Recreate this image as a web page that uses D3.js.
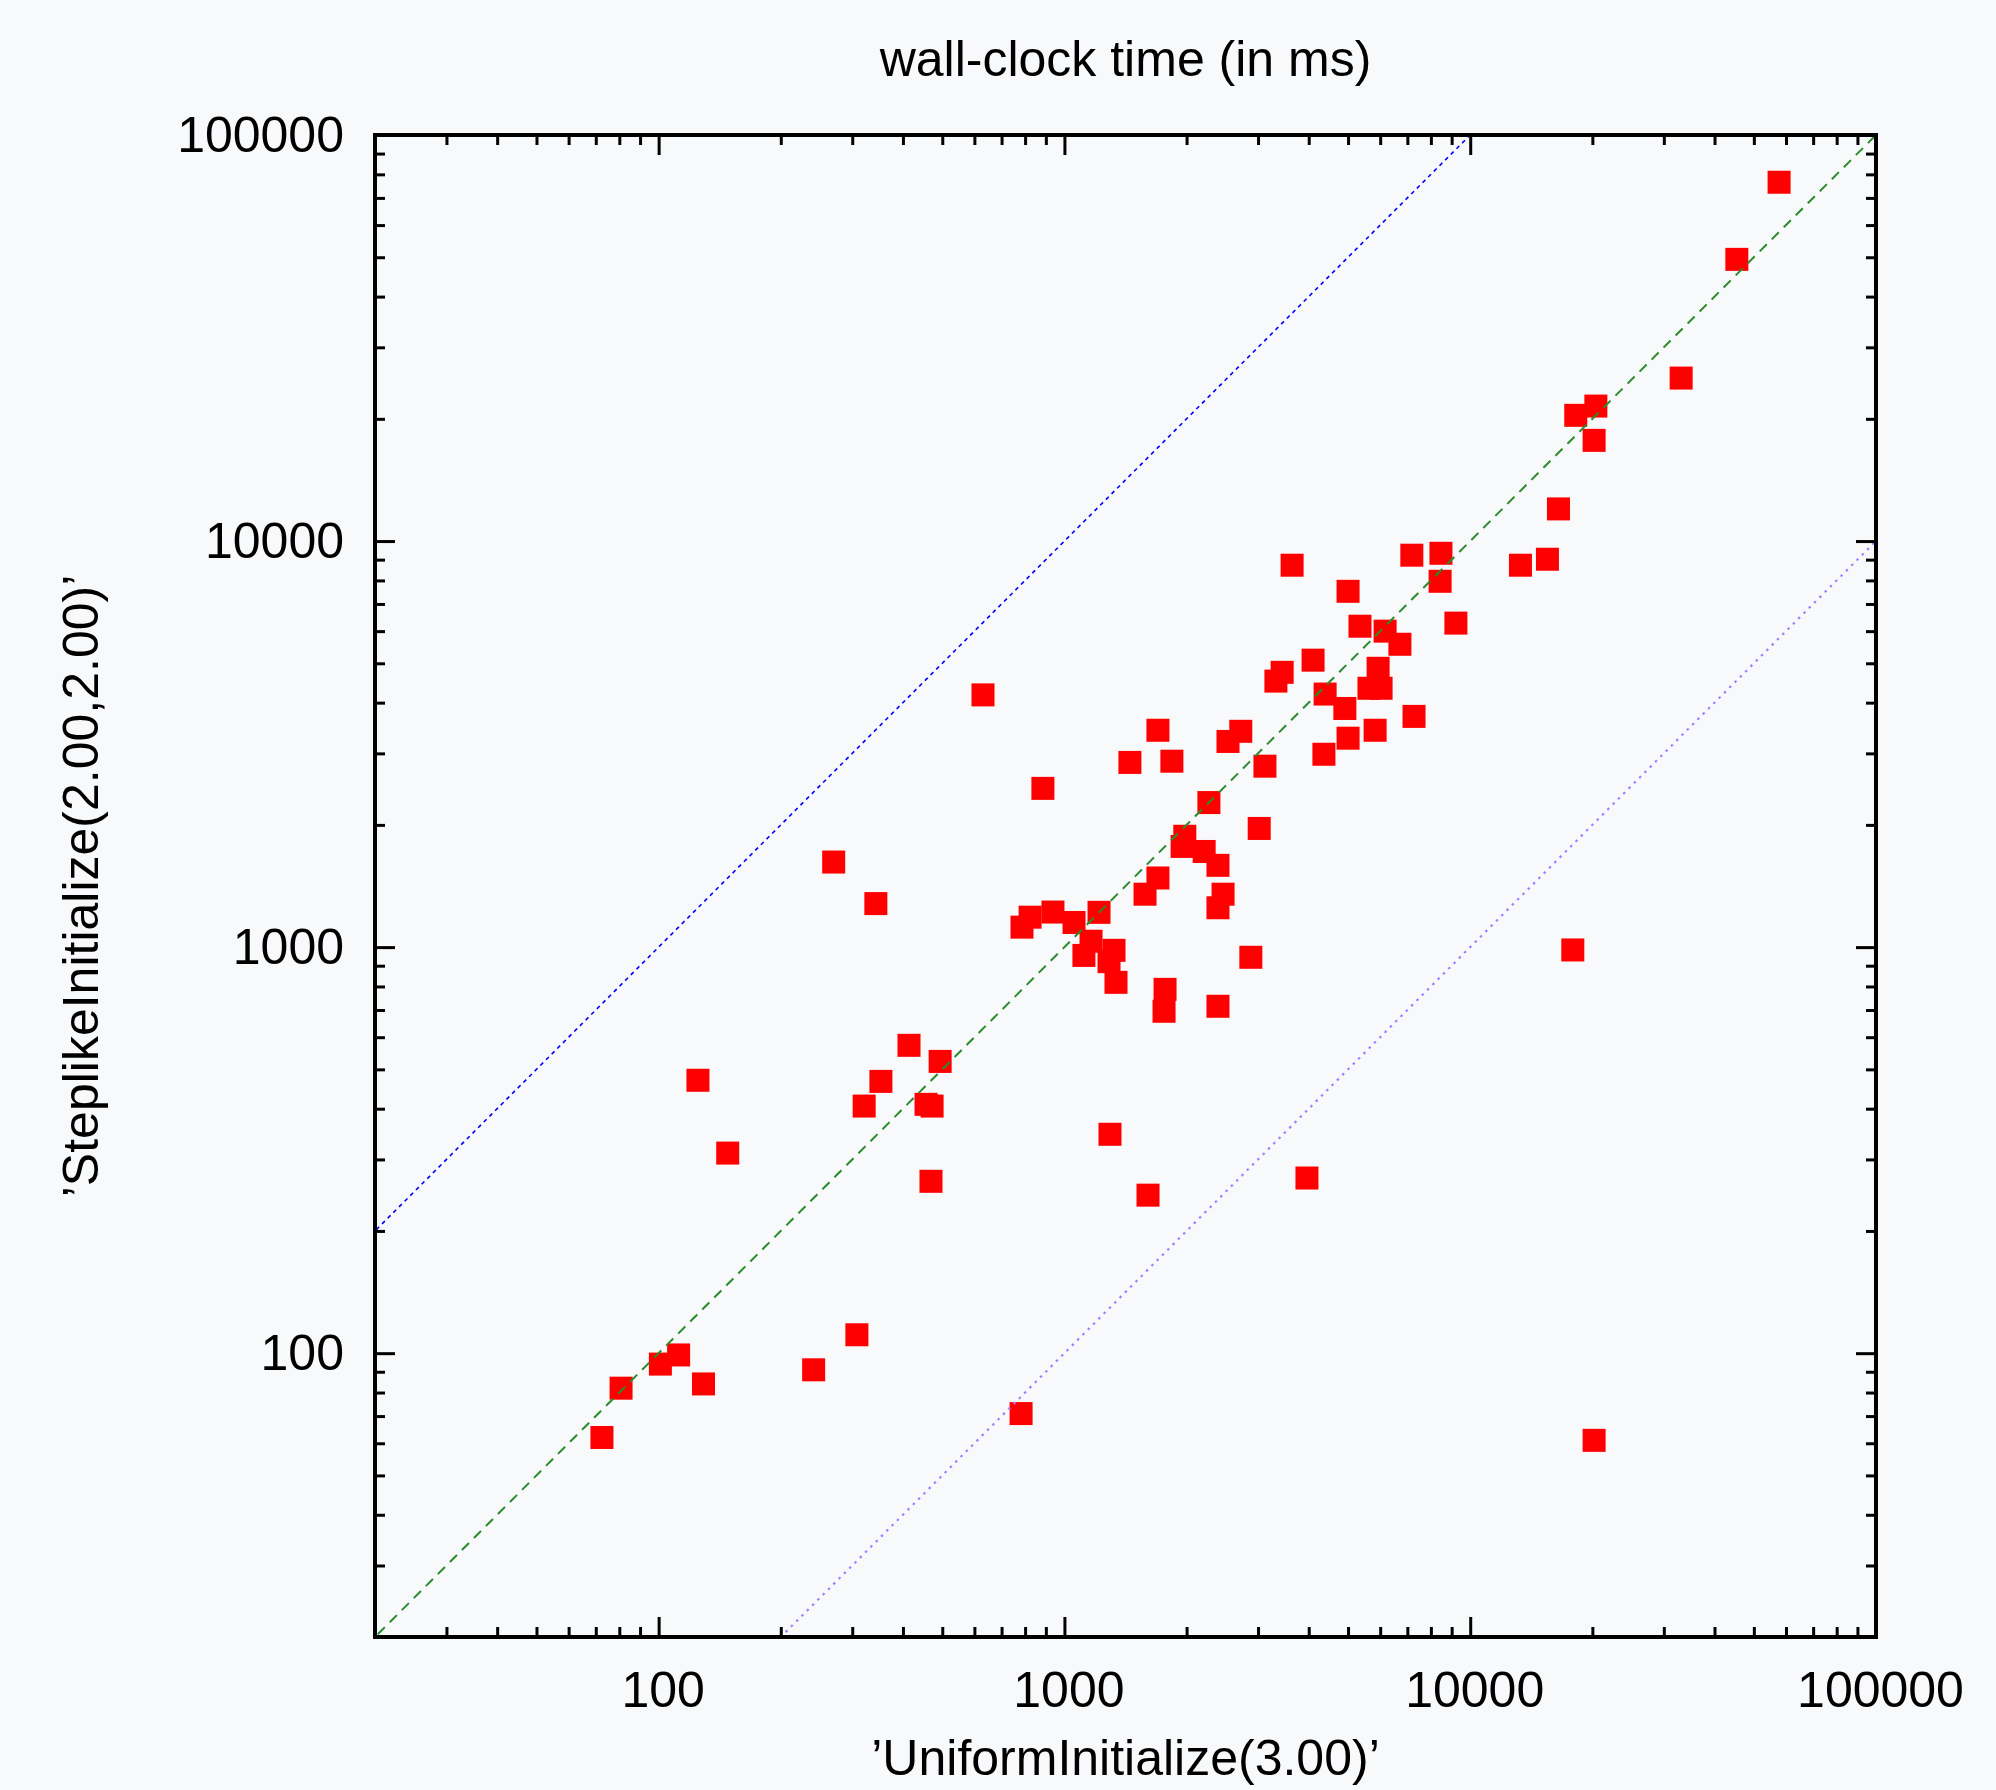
<!DOCTYPE html>
<html>
<head>
<meta charset="utf-8">
<script src="https://cdn.jsdelivr.net/npm/d3@7.9.0/dist/d3.min.js"></script>
<style>
  html, body { margin: 0; padding: 0; background: #f8f9fb; }
  svg { display: block; }
  text { font-family: "Liberation Sans", Arial, sans-serif; fill: #000; }
</style>
</head>
<body>
<div id="chart"></div>
<script>
// axis settings
const domainMin = 20;
const domainMax = 100000;
const majorTicks = [100, 1000, 10000, 100000];
const titleText = 'wall-clock time (in ms)';
const xLabel = '\u2019UniformInitialize(3.00)\u2019';
const yLabel = '\u2019SteplikeInitialize(2.00,2.00)\u2019';

// measurements: UniformInitialize (x) vs SteplikeInitialize (y), ms
const uniform = [
  630, 1700, 2720, 2530, 1450, 1840, 3120, 885, 2270, 3020,
  1980, 1950, 2210, 2390, 1700, 1580, 2460, 2390, 786, 823,
  937, 1056, 1217, 1163, 1117, 1325, 1288, 1340, 1770, 1760,
  2390, 2880,
  3640, 7180, 8470, 8430, 5000, 9220, 5350, 6170, 6710, 4100,
  3440, 3320, 5930, 5630, 6030, 4390, 4910, 7270, 5830, 5000,
  4360,
  125, 148, 414, 494, 353, 321, 456, 472, 469,
  72.5, 80.8, 101, 112, 129, 241, 308,
  57700, 45400, 33100, 18200, 20400, 20200, 16500, 15500, 13300,
  1295, 1607, 3960,
  270, 343, 782, 17900, 20200
];
const steplike = [
  4180, 3420, 3400, 3210, 2850, 2870, 2790, 2460, 2270, 1960,
  1875, 1770, 1720, 1590, 1480, 1350, 1350, 1250, 1120, 1185,
  1220, 1150, 1218, 1034, 954, 982, 921, 819, 787, 695,
  715, 944,
  8720, 9230, 9330, 7960, 7520, 6280, 6170, 6000, 5570, 5090,
  4750, 4520, 4860, 4340, 4340, 4200, 3870, 3700, 3420, 3270,
  2985,
  470, 311, 573, 523, 467, 406, 410, 406, 265,
  62, 82, 94, 99, 84, 91, 111,
  76500, 49400, 25200, 20400, 21500, 17700, 12000, 9020, 8720,
  346, 245, 270,
  1620, 1280, 71, 984, 61
];
// reference lines y = factor * x
const refFactors = [1, 10, 0.1];

const width = 1996;
const height = 1790;
const plot = { left: 375, right: 1876, top: 135, bottom: 1637 };

const svg = d3.select('#chart').append('svg')
  .attr('width', width)
  .attr('height', height);

svg.append('rect')
  .attr('width', width)
  .attr('height', height)
  .attr('fill', '#f8f9fb');

const x = d3.scaleLog().domain([domainMin, domainMax]).range([plot.left, plot.right]);
const y = d3.scaleLog().domain([domainMin, domainMax]).range([plot.bottom, plot.top]);

// minor ticks 2..9 x 10^k inside the domain
const minorTicks = [];
for (let e = 1; e <= 4; e++) {
  for (let m = 2; m <= 9; m++) {
    const v = m * Math.pow(10, e);
    if (v > domainMin && v < domainMax) minorTicks.push(v);
  }
}

svg.append('defs').append('clipPath').attr('id', 'clip')
  .append('rect')
  .attr('x', plot.left)
  .attr('y', plot.top)
  .attr('width', plot.right - plot.left)
  .attr('height', plot.bottom - plot.top);

// points
const points = uniform.map((u, i) => ({ u, s: steplike[i] }));
const side = 23;
svg.append('g')
  .attr('clip-path', 'url(#clip)')
  .selectAll('rect')
  .data(points)
  .join('rect')
  .attr('x', d => x(d.u) - side / 2)
  .attr('y', d => y(d.s) - side / 2)
  .attr('width', side)
  .attr('height', side)
  .attr('fill', '#ff0000');

// reference lines
const lineStyles = [
  { stroke: '#2a8c2a', width: 2, dash: '10,7' },
  { stroke: '#0000ff', width: 1.6, dash: '4,4' },
  { stroke: '#a080ff', width: 2.2, dash: '2.5,5' }
];
const xs = [domainMin / 10, domainMax * 10];
const line = d3.line().x(d => x(d[0])).y(d => y(d[1]));
refFactors.forEach((f, i) => {
  svg.append('path')
    .attr('clip-path', 'url(#clip)')
    .attr('d', line(xs.map(v => [v, v * f])))
    .attr('fill', 'none')
    .attr('stroke', lineStyles[i].stroke)
    .attr('stroke-width', lineStyles[i].width)
    .attr('stroke-dasharray', lineStyles[i].dash);
});

// axes with inward ticks, mirrored on top and right
function styleAxis(g) {
  g.select('.domain').remove();
  g.selectAll('line').attr('stroke', '#000').attr('stroke-width', 3);
  g.selectAll('text')
    .style('font-family', '"Liberation Sans", Arial, sans-serif')
    .style('font-size', '50px')
    .attr('fill', '#000');
}

const fmt = d => String(d);

svg.append('g')
  .attr('transform', `translate(0,${plot.bottom})`)
  .call(d3.axisBottom(x).tickValues(majorTicks).tickFormat(fmt).tickSize(-20).tickPadding(34))
  .call(styleAxis)
  .call(g => g.selectAll('text').attr('dx', 4));
svg.append('g')
  .attr('transform', `translate(0,${plot.bottom})`)
  .call(d3.axisBottom(x).tickValues(minorTicks).tickFormat('').tickSize(-10))
  .call(styleAxis);
svg.append('g')
  .attr('transform', `translate(0,${plot.top})`)
  .call(d3.axisTop(x).tickValues(majorTicks).tickFormat('').tickSize(-20))
  .call(styleAxis);
svg.append('g')
  .attr('transform', `translate(0,${plot.top})`)
  .call(d3.axisTop(x).tickValues(minorTicks).tickFormat('').tickSize(-10))
  .call(styleAxis);

svg.append('g')
  .attr('transform', `translate(${plot.left},0)`)
  .call(d3.axisLeft(y).tickValues(majorTicks).tickFormat(fmt).tickSize(-20).tickPadding(31))
  .call(styleAxis);
svg.append('g')
  .attr('transform', `translate(${plot.left},0)`)
  .call(d3.axisLeft(y).tickValues(minorTicks).tickFormat('').tickSize(-10))
  .call(styleAxis);
svg.append('g')
  .attr('transform', `translate(${plot.right},0)`)
  .call(d3.axisRight(y).tickValues(majorTicks).tickFormat('').tickSize(-20))
  .call(styleAxis);
svg.append('g')
  .attr('transform', `translate(${plot.right},0)`)
  .call(d3.axisRight(y).tickValues(minorTicks).tickFormat('').tickSize(-10))
  .call(styleAxis);

// frame
svg.append('rect')
  .attr('x', plot.left)
  .attr('y', plot.top)
  .attr('width', plot.right - plot.left)
  .attr('height', plot.bottom - plot.top)
  .attr('fill', 'none')
  .attr('stroke', '#000')
  .attr('stroke-width', 4);

// titles
const cx = (plot.left + plot.right) / 2;
svg.append('text')
  .attr('x', cx)
  .attr('y', 76)
  .attr('text-anchor', 'middle')
  .style('font-size', '50px')
  .text(titleText);
svg.append('text')
  .attr('x', cx)
  .attr('y', 1775)
  .attr('text-anchor', 'middle')
  .style('font-size', '50px')
  .text(xLabel);
svg.append('text')
  .attr('transform', `translate(98,${(plot.top + plot.bottom) / 2}) rotate(-90)`)
  .attr('text-anchor', 'middle')
  .style('font-size', '50px')
  .text(yLabel);
</script>
</body>
</html>
